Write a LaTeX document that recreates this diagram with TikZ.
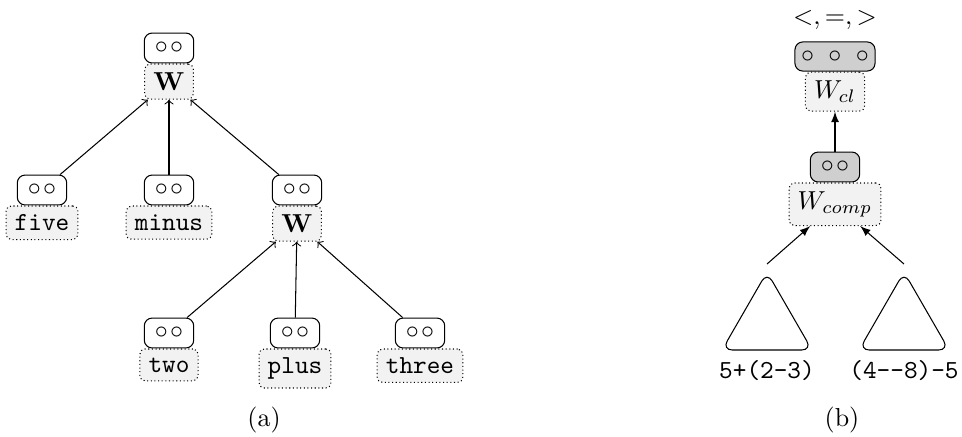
\documentclass[tikz,border=0pt]{standalone}

\tikzset{
  vec/.style={draw, rounded corners=3pt, minimum width=19pt, minimum height=11.5pt, inner sep=0pt},
  vecc/.style={vec, fill=gray!38},
  lbl/.style={draw, densely dotted, fill=gray!10, rounded corners=2pt, anchor=north},
  word/.style={lbl, font=\ttfamily},
  subtree/.style={draw, rounded corners=4pt},
}
\newcommand{\twocirc}{$\circ\mkern1.5mu\circ$}
\newcommand{\threecirc}{$\circ\mkern6mu\circ\mkern6mu\circ$}

\begin{document}
\begin{tikzpicture}[x=0.3846pt, y=-0.3846pt]
  \useasboundingbox (0,0) rectangle (962,436);

  % Nodes (a)
  \node[vec] (rootv) at (169,48) {\twocirc};
  \node[lbl] (root) at (rootv.south) {$\mathbf{W}$};

  \node[vec] (fivev) at (42,190) {\twocirc};
  \node[word] (five) at (fivev.south) {five};
  \node[vec] (minusv) at (169,190) {\twocirc};
  \node[word] (minus) at (minusv.south) {minus};
  \node[vec] (wv) at (297,190) {\twocirc};
  \node[lbl] (w) at (wv.south) {$\mathbf{W}$};

  \node[vec] (twov) at (169,333) {\twocirc};
  \node[word] (two) at (twov.south) {two};
  \node[vec] (plusv) at (295,333) {\twocirc};
  \node[word] (plus) at (plusv.south) {plus};
  \node[vec] (threev) at (420,333) {\twocirc};
  \node[word] (three) at (threev.south) {three};

  % Edges (a)
  \draw[->] (fivev) -- (root);
  \draw[->] (minusv) -- (root);
  \draw[->] (wv) -- (root);
  \draw[->] (twov) -- (w);
  \draw[->] (plusv) -- (w);
  \draw[->] (threev) -- (w);

  % Nodes (b)
  \node (ord) at (835,20) {$<,=,>$};
  \node[vecc, minimum width=30.8pt, minimum height=11.2pt] (clv) at (835,56.5) {\threecirc};
  \node[lbl] (cl) at (clv.south) {$W_{cl}$};
  \node[vecc] (compv) at (835,167) {\twocirc};
  \node[lbl] (comp) at (compv.south) {$W_{comp}$};

  % subtrees
  \draw[subtree] (767,350) -- (812,350) -- (767,272) -- (722,350) -- cycle;
  \draw[subtree] (904,350) -- (949,350) -- (904,272) -- (859,350) -- cycle;
  \coordinate (lapex) at (767,264);
  \coordinate (rapex) at (904,264);
  \node[font=\ttfamily] (lexpr) at (767,371) {5+(2-3)};
  \node[font=\ttfamily] (rexpr) at (904,371) {(4-{}-8)-5};

  % Edges (b)
  \draw[-latex] (compv) -- (cl);
  \draw[-latex] (lapex) -- (comp);
  \draw[-latex] (rapex) -- (comp);

  % Captions
  \node (capa) at (264,420) {(a)};
  \node (capb) at (842,420) {(b)};
\end{tikzpicture}
\end{document}
